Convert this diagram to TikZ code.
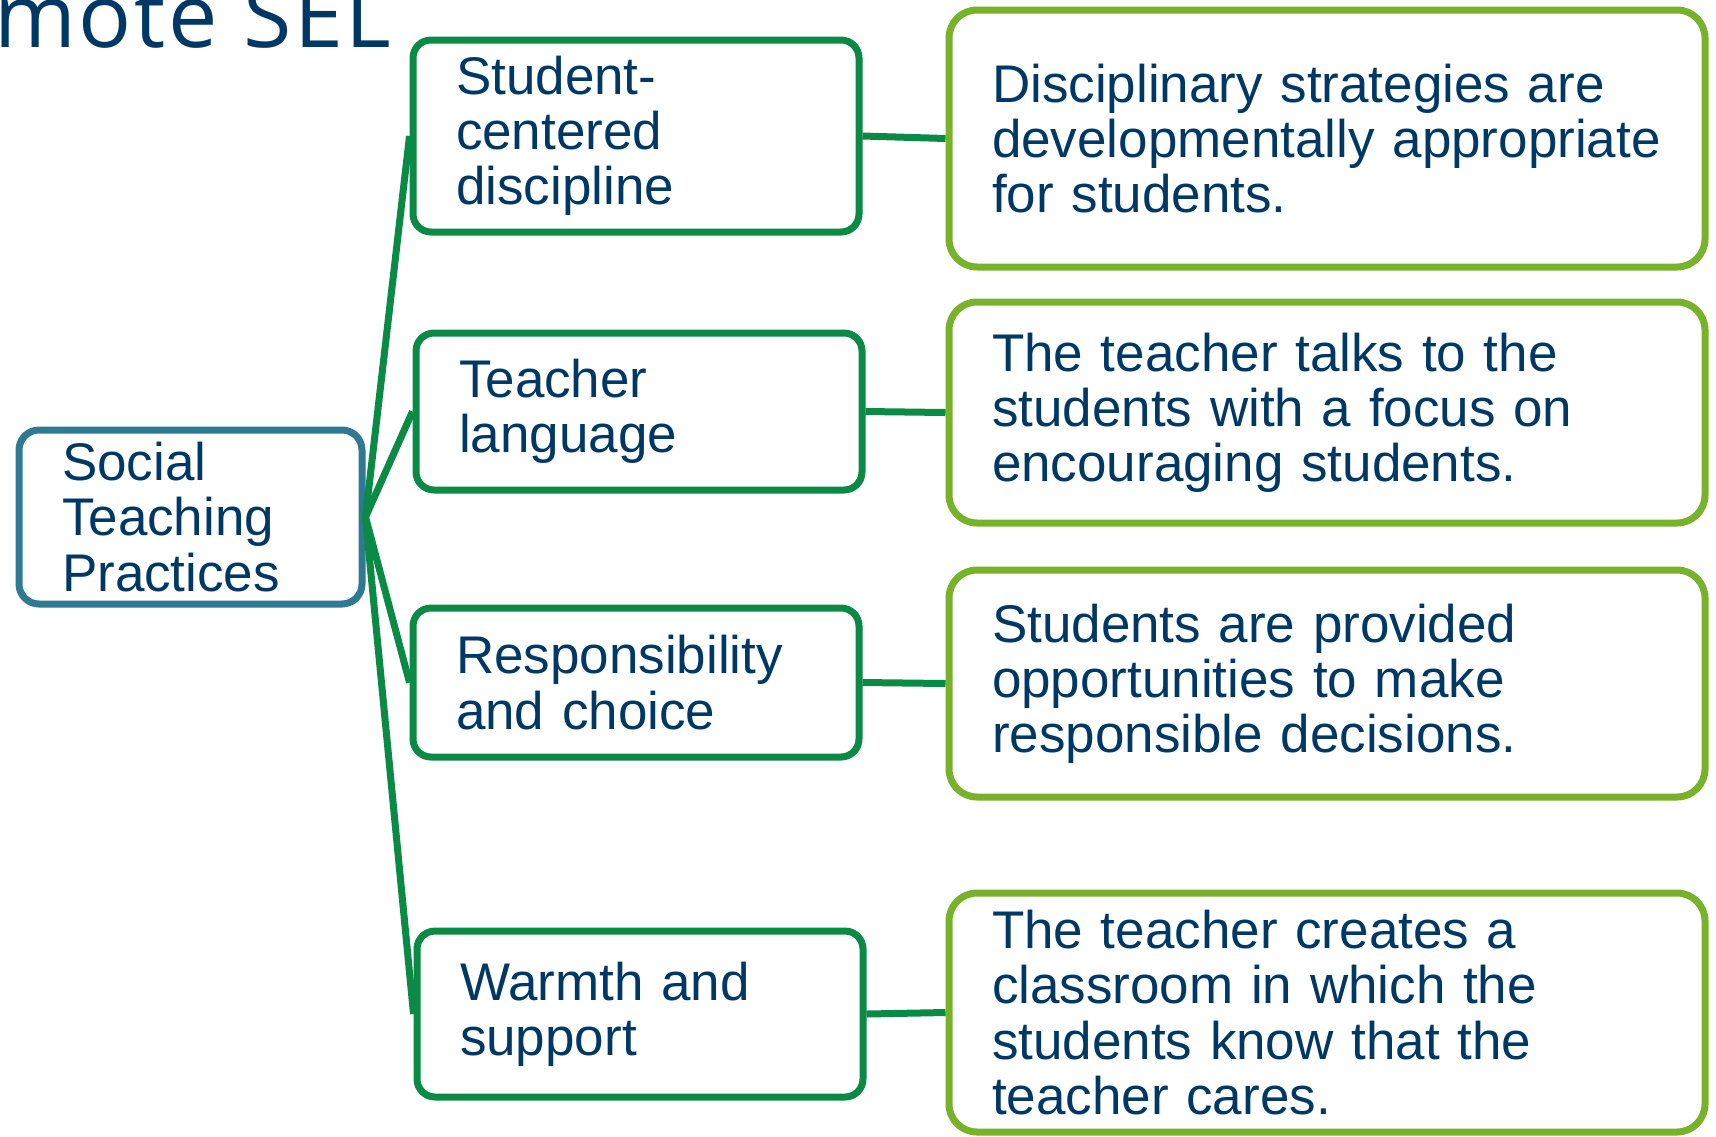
\documentclass[tikz,border=0pt]{standalone}
\usepackage{fontspec}
\setmainfont{Liberation Sans}
\newfontfamily\titlefont[LetterSpace=3]{Open Sans}
\definecolor{navy}{HTML}{003865}
\definecolor{hubblue}{HTML}{2F7A92}
\definecolor{practgreen}{HTML}{0B8A45}
\definecolor{detailgreen}{HTML}{78B12A}

\begin{document}
\begin{tikzpicture}[x=0.5pt,y=-0.5pt]
	\useasboundingbox (0,0) rectangle (1716,1136);
	\node[anchor=base west, inner sep=0pt, text=navy,
	      font=\titlefont\fontsize{44}{48}\selectfont] (title) at (-6,47) {mote SEL};

	\begin{scope}[every node/.style={draw, line width=3.5pt, text=navy, align=left,
	              inner xsep=21.5pt, inner ysep=0pt,
	              font=\fontsize{26.5}{27.6}\selectfont}]
	    	\node[draw=hubblue, rounded corners=10pt, text width=128.5pt, minimum height=87pt]
	    		(stp) at (190.5,517) {Social\\Teaching\\Practices};

	    	\node[draw=practgreen, rounded corners=9pt, text width=180pt, minimum height=96pt]
	    		(scd) at (636,136) {Student-\\centered\\discipline};
	    	\node[draw=practgreen, rounded corners=9pt, text width=180pt, minimum height=78.5pt]
	    		(tl) at (639,411.5) {Teacher\\language};
	    	\node[draw=practgreen, rounded corners=9pt, text width=180pt, minimum height=74.5pt]
	    		(rc) at (636,682.5) {Responsibility\\and choice};
	    	\node[draw=practgreen, rounded corners=9pt, text width=180pt, minimum height=83pt]
	    		(ws) at (640,1014) {Warmth and\\support};

	    	\node[draw=detailgreen, rounded corners=14pt, text width=335pt, minimum height=128.5pt]
	    		(dsa) at (1327,138.5) {Disciplinary strategies are\\developmentally appropriate\\for students.};
	    	\node[draw=detailgreen, rounded corners=14pt, text width=335pt, minimum height=110.5pt]
	    		(ttt) at (1327,412.5) {The teacher talks to the\\students with a focus on\\encouraging students.};
	    	\node[draw=detailgreen, rounded corners=14pt, text width=335pt, minimum height=113.5pt]
	    		(sap) at (1327,683.5) {Students are provided\\opportunities to make\\responsible decisions.};
	    	\node[draw=detailgreen, rounded corners=14pt, text width=335pt, minimum height=119.5pt]
	    		(tcc) at (1327,1012.5) {The teacher creates a\\classroom in which the\\students know that the\\teacher cares.};
	\end{scope}

	\begin{scope}[every edge/.style={draw=practgreen, line width=3.5pt}]
		\path (stp.east) edge (scd.west);
		\path (stp.east) edge (tl.west);
		\path (stp.east) edge (rc.west);
		\path (stp.east) edge (ws.west);
		\path (scd.east) edge (dsa.west);
		\path (tl.east) edge (ttt.west);
		\path (rc.east) edge (sap.west);
		\path (ws.east) edge (tcc.west);
	\end{scope}
\end{tikzpicture}
\end{document}
